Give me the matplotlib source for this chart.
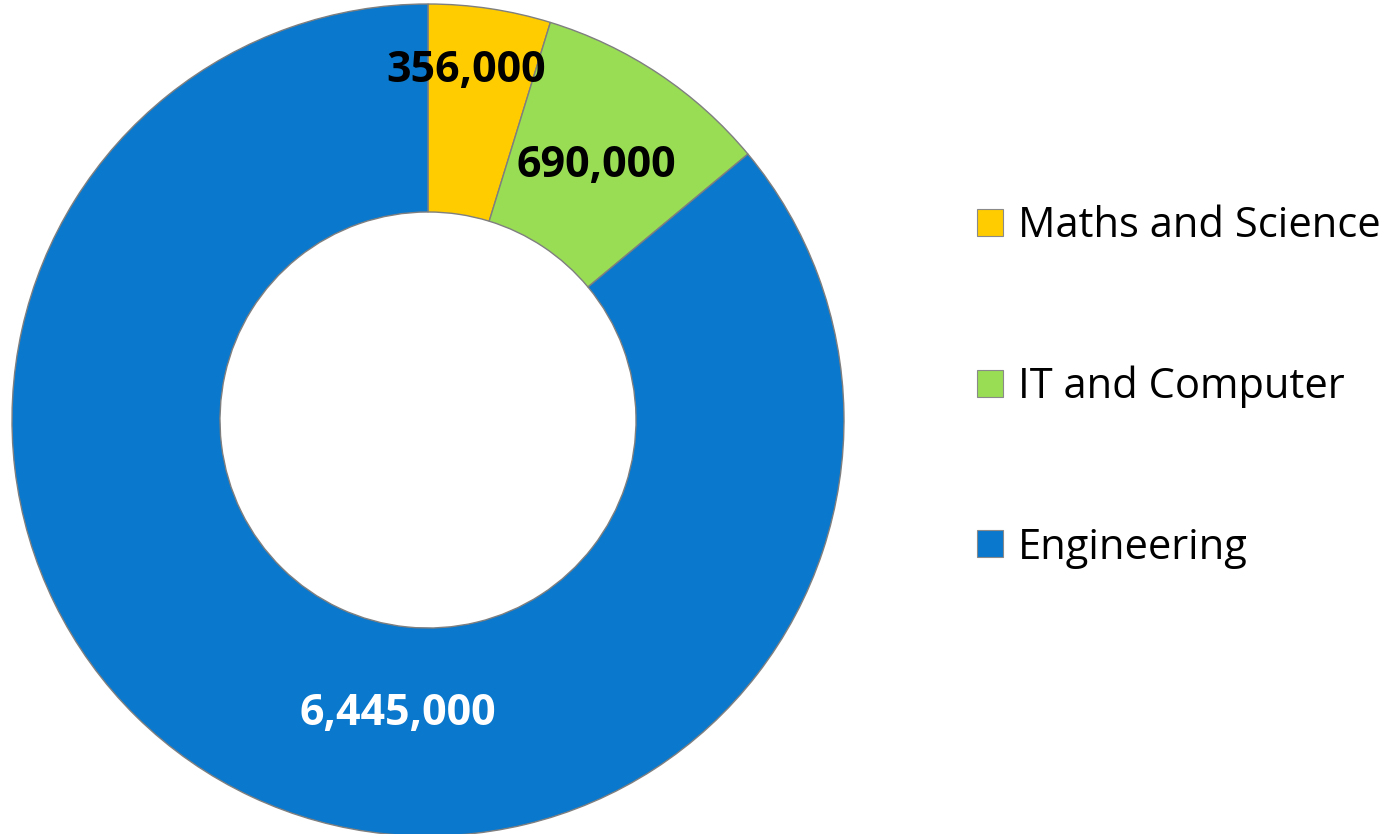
import matplotlib
matplotlib.use("Agg")
import numpy as np
import matplotlib.pyplot as plt
from matplotlib.patches import Patch

# data
categories = ["Maths and Science", "IT and Computer", "Engineering"]
values = [356000, 690000, 6445000]
colors = ["#FFCC00", "#99DD55", "#0A78CC"]
label_colors = ["black", "black", "white"]
# label anchor (angle from top clockwise in degrees, fraction of outer radius)
label_pos = [(6.3, 0.845), (33.5, 0.735), (185.8, 0.71)]

FONT = "Open Sans"

fig = plt.figure(figsize=(13.91, 8.34), dpi=100)
W, H = 1391, 834
cx, cy, R = 428, 420, 416
ax = fig.add_axes([(cx - R) / W, (H - cy - R) / H, 2 * R / W, 2 * R / H])

wedges, _ = ax.pie(values, colors=colors, startangle=90, counterclock=False,
                   radius=1.0, wedgeprops=dict(width=0.5, edgecolor="#7f7f7f",
                                               linewidth=1.0))
ax.set_xlim(-1, 1)
ax.set_ylim(-1, 1)
ax.axis("off")

for v, (ang, r), c in zip(values, label_pos, label_colors):
    a = np.deg2rad(ang)
    ax.text(r * np.sin(a), r * np.cos(a), f"{v:,}", ha="center", va="center",
            fontsize=31, fontweight="bold", color=c, family=FONT)

handles = [Patch(facecolor=col, edgecolor="#8a8a8a", linewidth=0.8)
           for col in colors]
fig.legend(handles, categories, loc="center left",
           bbox_to_anchor=(977 / W, 1 - 387 / H), frameon=False,
           prop=dict(family=FONT, size=30), handlelength=0.62,
           handleheight=0.62, handletextpad=0.36, labelspacing=2.84,
           borderpad=0, borderaxespad=0)

fig.savefig("out.png", dpi=100)
